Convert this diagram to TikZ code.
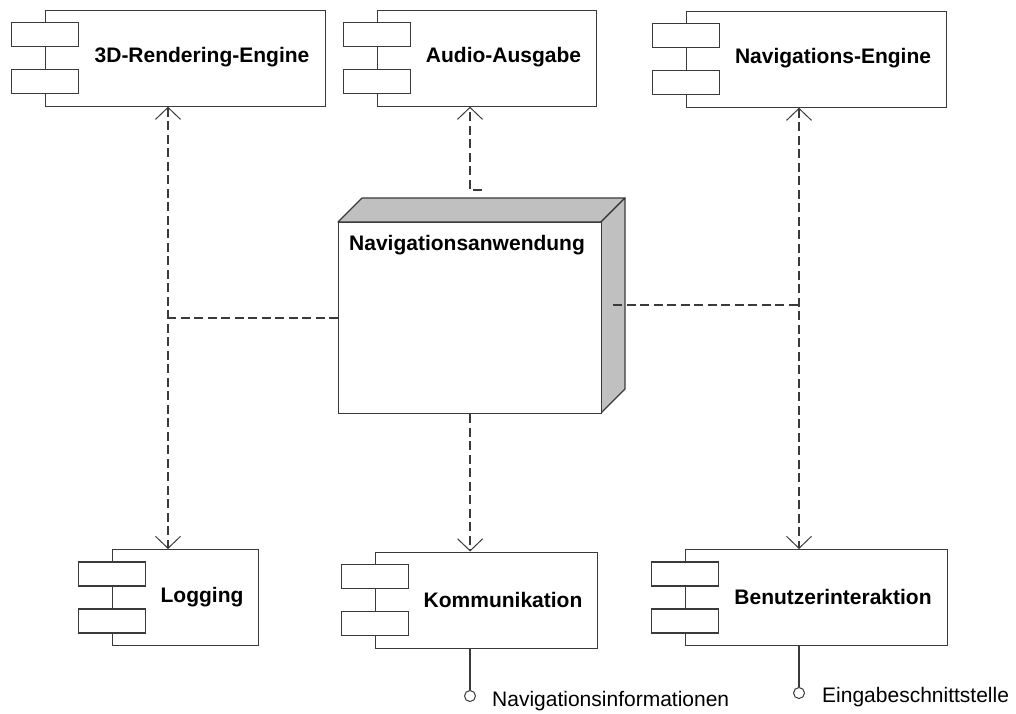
\documentclass[tikz,border=0pt]{standalone}
\usepackage{fontspec}
\setmainfont{Liberation Sans}
\usetikzlibrary{arrows.meta}

\definecolor{linegray}{HTML}{3A3A3A}
\definecolor{sidegray}{HTML}{C0C0C0}

\tikzset{
  compbox/.style={draw=linegray, line width=1.2pt, fill=white, inner sep=0pt,
    anchor=north west, minimum height=96pt},
  portbox/.style={draw=linegray, line width=1.2pt, fill=white, inner sep=0pt,
    minimum width=67pt, minimum height=24pt},
  complabel/.style={font=\fontsize{21pt}{24pt}\selectfont\bfseries, inner sep=0pt},
  facebox/.style={draw=linegray, line width=1.2pt, fill=white, inner sep=0pt,
    anchor=north west},
  depline/.style={draw=linegray, line width=1.3pt, dash pattern=on 9pt off 4.5pt},
  deptip/.style={-{Straight Barb[length=12pt,width=25pt,line width=1pt]}},
  bothtips/.style={{Straight Barb[length=12pt,width=25pt,line width=1pt]}-{Straight Barb[length=12pt,width=25pt,line width=1pt]}},
  lolli/.style={circle, draw=linegray, line width=1pt, fill=white, minimum size=11pt, inner sep=0pt},
  iflabel/.style={font=\fontsize{21pt}{24pt}\selectfont, anchor=west, inner sep=0pt},
  wire/.style={draw=linegray, line width=1.2pt},
}

% component: #1 name, #2 left, #3 top, #4 right, #5 title
\newcommand\umlcomp[5]{%
  \node[compbox, minimum width={(#4)-(#2)}] (#1) at (#2,#3) {};
  \node[portbox] (#1-p1) at (#2,#3+25) {};
  \node[portbox] (#1-p2) at (#2,#3+72) {};
  \node[complabel] (#1-t) at ({(#2+34+#4)/2},#3+48) {#5};
}

\begin{document}
\begin{tikzpicture}[x=1pt,y=-1pt]
\useasboundingbox (0,0) rectangle (1016,713);

% components
\umlcomp{eng}{45}{9.5}{325}{3D-Rendering-Engine}
\umlcomp{audio}{377}{9.5}{596}{Audio-Ausgabe}
\umlcomp{nav}{686}{10.5}{946}{Navigations-Engine}
\umlcomp{log}{112}{549}{258}{Logging}
\umlcomp{komm}{375}{551.5}{597}{Kommunikation}
\umlcomp{benu}{685}{549}{947}{Benutzerinteraktion}

% application node drawn as a cuboid
\fill[sidegray, draw=linegray, line width=1.2pt, line join=round]
  (338,222) -- (362,198) -- (625,198) -- (601,222) -- cycle;
\fill[sidegray, draw=linegray, line width=1.2pt, line join=round]
  (601,222) -- (625,198) -- (625,389) -- (601,413) -- cycle;
\node[facebox, minimum width=263pt, minimum height=191pt] (app) at (338,222) {};
\node[complabel, anchor=base west] (app-t) at (349,250) {Navigationsanwendung};

% dependencies on the left: 3D engine and logging
\coordinate (xl) at (168,0);
\coordinate (jl) at (app.west -| xl);
\draw[depline] (app.west) -- (jl);
\draw[depline, bothtips] (eng.south -| jl) -- (log.north -| jl);

% dependency to the audio output
\coordinate (a1) at (482,190);
\coordinate (a2) at (470,190);
\draw[depline, deptip] (a1) -- (a2) -- (a2 |- audio.south);

% dependency to communication
\draw[depline, deptip] (app.south) -- (app.south |- komm.north);

% dependencies on the right: navigation engine and user interaction
\coordinate (r0) at (613,305);
\coordinate (jr) at (799,305);
\draw[depline] (r0) -- (jr);
\draw[depline, bothtips] (nav.south -| jr) -- (benu.north -| jr);

% provided interfaces
\node[lolli] (if1) at (470,696) {};
\draw[wire] (komm.south -| if1) -- (if1.north);
\node[iflabel] (if1-t) at (492,701) {Navigationsinformationen};

\node[lolli] (if2) at (799,693) {};
\draw[wire] (benu.south -| if2) -- (if2.north);
\node[iflabel] (if2-t) at (822,697) {Eingabeschnittstelle};
\end{tikzpicture}
\end{document}
